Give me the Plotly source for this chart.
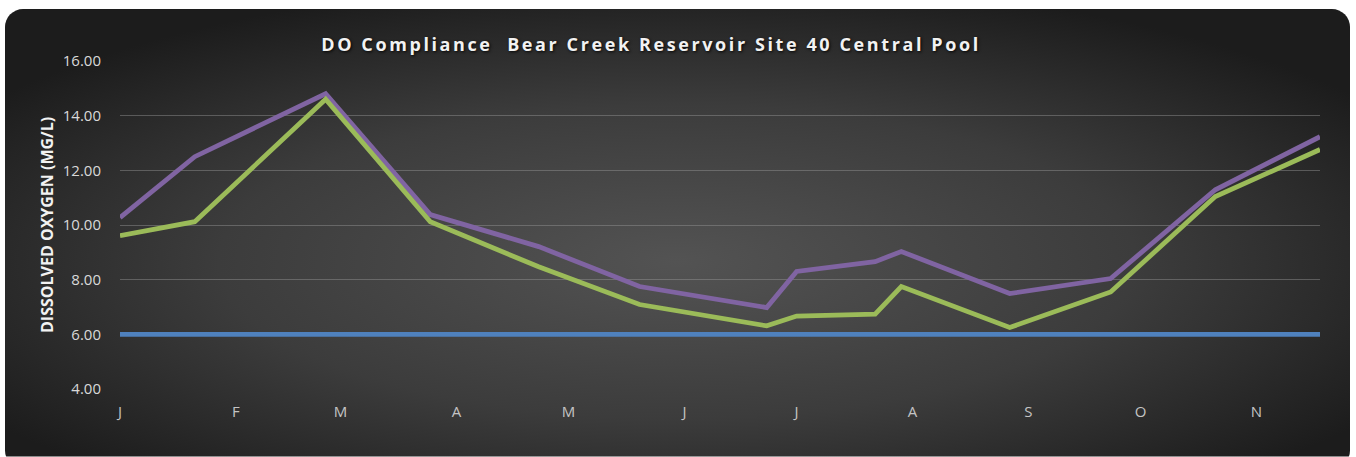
import base64
import plotly.graph_objects as go

# ---- data ----
dates = ["2015-01-01", "2015-01-21", "2015-02-25", "2015-03-25", "2015-04-23",
         "2015-05-20", "2015-06-23", "2015-07-01", "2015-07-22", "2015-07-29",
         "2015-08-27", "2015-09-23", "2015-10-21", "2015-11-18"]
do_upper = [10.27, 12.50, 14.80, 10.38, 9.21, 7.75, 6.98, 8.30, 8.66, 9.03,
            7.49, 8.04, 11.29, 13.23]
do_lower = [9.61, 10.12, 14.60, 10.12, 8.47, 7.09, 6.31, 6.67, 6.74, 7.75,
            6.25, 7.55, 11.04, 12.76]
do_standard = [6.00, 6.00, 6.00, 6.00, 6.00, 6.00, 6.00, 6.00, 6.00, 6.00,
               6.00, 6.00, 6.00, 6.00]
month_ticks = ["2015-01-01", "2015-02-01", "2015-03-01", "2015-04-01", "2015-05-01",
               "2015-06-01", "2015-07-01", "2015-08-01", "2015-09-01", "2015-10-01",
               "2015-11-01"]
month_labels = ["J", "F", "M", "A", "M", "J", "J", "A", "S", "O", "N"]
y_ticks = [4, 6, 8, 10, 12, 14, 16]

title_text = "DO Compliance\u00a0 Bear Creek Reservoir Site 40 Central Pool"
y_title = "DISSOLVED OXYGEN (MG/L)"

# ---- geometry ----
W, H = 1356, 457
ML, MR, MT, MB = 120, 36, 61, 67.5
PW, PH = W - ML - MR, H - MT - MB

# dark rounded background with radial gradient
svg = f"""<svg xmlns='http://www.w3.org/2000/svg' width='{W}' height='{H}' viewBox='0 0 {W} {H}'>
<defs><radialGradient id='g' cx='0.5' cy='0.55' r='0.62'>
<stop offset='0' stop-color='#535353'/>
<stop offset='0.55' stop-color='#3c3c3c'/>
<stop offset='1' stop-color='#1c1c1c'/>
</radialGradient></defs>
<rect x='5' y='9' width='1345' height='460' rx='18' ry='18' fill='url(#g)'/>
</svg>"""
bg_uri = "data:image/svg+xml;base64," + base64.b64encode(svg.encode()).decode()

fig = go.Figure()
fig.add_trace(go.Scatter(x=dates, y=do_upper, mode="lines", name="Upper",
                         line=dict(color="#8064A2", width=4.8)))
fig.add_trace(go.Scatter(x=dates, y=do_lower, mode="lines", name="Lower",
                         line=dict(color="#9BBB59", width=4.8)))
fig.add_trace(go.Scatter(x=dates, y=do_standard, mode="lines", name="Standard",
                         line=dict(color="#4F81BD", width=4.8)))

fig.update_layout(
    width=W, height=H,
    margin=dict(l=ML, r=MR, t=MT, b=MB, autoexpand=False),
    paper_bgcolor="white",
    plot_bgcolor="rgba(0,0,0,0)",
    showlegend=False,
    font=dict(family="Open Sans", color="#d9d9d9"),
    title=dict(text=title_text, x=651 / W, xref="container", xanchor="center",
               y=1 - 45 / H, yref="container", yanchor="middle",
               font=dict(family="Open Sans", size=18, weight="bold", color="#f2f2f2",
                         shadow="1px 1px 3px rgba(0,0,0,0.9)")),
    xaxis=dict(type="date", range=[dates[0], dates[-1]],
               tickvals=month_ticks, ticktext=month_labels,
               showgrid=False, zeroline=False, showline=False, ticks="",
               ticklabelstandoff=12,
               tickfont=dict(family="Open Sans", size=15, color="#c4c4c4")),
    yaxis=dict(range=[4, 16], tickvals=y_ticks, tickformat=".2f",
               showgrid=True, gridcolor="rgba(150,150,150,0.45)", gridwidth=1.3,
               zeroline=False, showline=False, ticks="",
               ticklabelstandoff=18,
               tickfont=dict(family="Open Sans", size=15, color="#d9d9d9")),
    images=[dict(source=bg_uri, xref="paper", yref="paper",
                 x=-ML / PW, y=1 + MT / PH, sizex=W / PW, sizey=H / PH,
                 xanchor="left", yanchor="top", sizing="stretch", layer="below")],
    annotations=[dict(text=y_title, xref="paper", yref="paper",
                      x=(47 - ML) / PW, y=0.5, xanchor="center", yanchor="middle",
                      textangle=-90, showarrow=False,
                      font=dict(family="Open Sans", size=16, weight="bold",
                                color="#f2f2f2"))],
)

post = """
document.body.style.margin = '0';
document.body.style.padding = '0';
var t = document.querySelector('.gtitle');
if (t) { t.style.letterSpacing = '2.6px'; }
"""
fig.write_html("out.html", post_script=post, config={"displayModeBar": False})
